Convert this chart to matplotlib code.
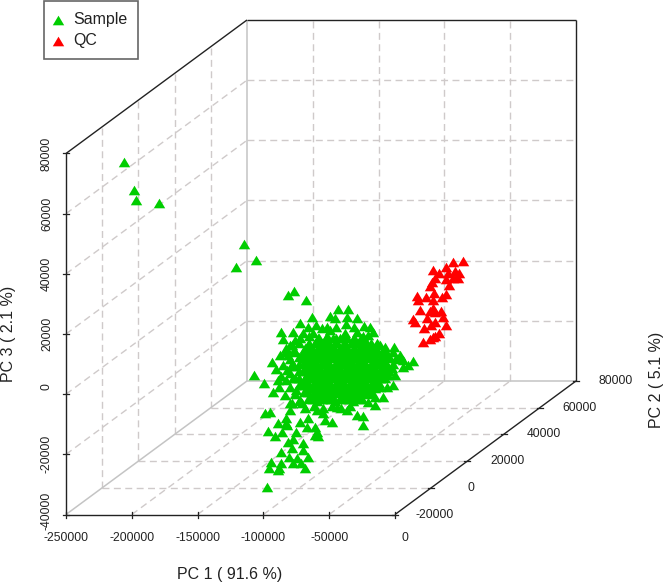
import numpy as np
import matplotlib
matplotlib.use("Agg")
import matplotlib.pyplot as plt

plt.rcParams["font.family"] = ["Liberation Sans", "DejaVu Sans"]

pc1_ticks = [-250000, -200000, -150000, -100000, -50000, 0]
pc2_ticks = [-20000, 0, 20000, 40000, 60000, 80000]
pc3_ticks = [-40000, -20000, 0, 20000, 40000, 60000, 80000]

# depth cannot be read off the flat picture, so one estimate per group
sample_pc2 = 0
qc_pc2 = 40000

sample_pc1 = [
    -233500, -225500, -224600, -207100, -142300, -133100, -148000, -104300, -108800, -95100,
    -134700, -127100, -124800, -126300, -122500, -124000, -118700, -113400, -116400, -110300,
    -121000, -117900, -120200, -115700, -111100, -107300, -121700, -123300, -114100, -115700,
    -116400, -105000, -108100, -114100, -108800, -105000, -105800, -102000, -97400, -97400,
    -93600, -95900, -98900, -102700, -94400, -88300, -86000, -88300, -86800, -109600,
    -110300, -107300, -99700, -93600, -80700, -75400, -56400, -51800, -51800, -64000,
    -105800, -98200, -86800, -82200, -71600, -42700, -48000,
    -114100, -112600, -110300, -114900, -108800, -105000, -99700, -90600, -93600, -87500,
    -83000, -76900, -70800, -63200, -64000, -56400, -64700, -73100, -51100, -44200,
    -48000, -56400, -65500, -76900, -89800, -97400, -103500, -50300, -41200, -35100,
    -28300, -13800, -21400, -23700, -32800, -21400, -27500, -29000, -36600, -33600,
    -42700, -112600, -114100, -109600, -116400,
    # dense core, row by row
    -99700, -92860, -86020, -79180, -72340, -65500, -58660, -51820,
    -107300, -100460, -93620, -86780, -79940, -73100, -66260, -59420, -52580, -45740, -38900,
    -111100, -104260, -97420, -90580, -83740, -76900, -70060, -63220, -56380, -49540, -42700, -35860, -29020,
    -107300, -100460, -93620, -86780, -79940, -73100, -66260, -59420, -52580, -45740, -38900, -32060, -25220,
    -104260, -97420, -90580, -83740, -76900, -70060, -63220, -56380, -49540, -42700, -35860, -29020,
    -107300, -100460, -93620, -86780, -79940, -73100, -66260, -59420, -52580, -45740, -38900, -32060,
    -110340, -103500, -96660, -89820, -82980, -76140, -69300, -62460, -55620, -48780, -41940, -35100,
    -107300, -100460, -93620, -86780, -79940, -73100, -66260, -59420, -52580, -45740, -38900,
    -103500, -96660, -89820, -82980, -76140, -69300, -62460, -55620, -48780,
    -100460, -93620, -86780, -79940, -73100, -66260, -59420, -52580,
    -95900, -89060, -82220, -75380, -68540, -61700,
    # centre of the core, where no white shows through
    -92860, -86020, -79180, -72340, -65500, -58660,
    -93620, -86780, -79940, -73100, -66260, -59420, -52580, -45740,
    -97420, -90580, -83740, -76900, -70060, -63220, -56380, -49540, -42700, -35860,
    -100460, -93620, -86780, -79940, -73100, -66260, -59420, -52580, -45740, -38900,
    -97420, -90580, -83740, -76900, -70060, -63220, -56380, -49540, -42700, -35860,
    -100460, -93620, -86780, -79940, -73100, -66260, -59420, -52580, -45740, -38900,
    -96660, -89820, -82980, -76140, -69300, -62460, -55620, -48780, -41940,
    -93620, -86780, -79940, -73100, -66260, -59420, -52580, -45740,
    -89820, -82980, -76140, -69300, -62460, -55620,
    # rim of the core
    -79180, -72340, -58660, -46500,
    -35860, -29780, -26740, -17620, -39660, -32820,
    -105800, -103500, -106500, -105000, -102700, -99700,
    # solid middle
    -85260, -79940, -74620, -69300, -63980, -58660, -53340,
    -87920, -82600, -77280, -71960, -66640, -61320, -56000, -50680,
    -95900, -90580, -85260, -79940, -74620, -69300, -63980, -58660, -53340, -48020, -42700,
    -93240, -87920, -82600, -77280, -71960, -66640, -61320, -56000, -50680, -45360, -40040, -34720,
    -95900, -90580, -85260, -79940, -74620, -69300, -63980, -58660, -53340, -48020, -42700, -37380, -32060,
    -93240, -87920, -82600, -77280, -71960, -66640, -61320, -56000, -50680, -45360, -40040, -34720,
    -95900, -90580, -85260, -79940, -74620, -69300, -63980, -58660, -53340, -48020, -42700, -37380, -32060,
    -93240, -87920, -82600, -77280, -71960, -66640, -61320, -56000, -50680, -45360, -40040, -34720,
    -95900, -90580, -85260, -79940, -74620, -69300, -63980, -58660, -53340, -48020, -42700, -37380,
    -93240, -87920, -82600, -77280, -71960, -66640, -61320, -56000, -50680, -45360, -40040,
    -90580, -85260, -79940, -74620, -69300, -63980, -58660, -53340, -48020, -42700,
    -87920, -82600, -77280, -71960, -66640, -61320, -56000, -50680, -45360,
    -85260, -79940, -74620, -69300, -63980, -58660, -53340,
]
sample_pc3 = [
    68250, 59100, 55600, 54600, 41000, 35700, 33350, 25400, 24000, 22400,
    -2400, -5200, -39800, -15200, -14850, -21200, -22800, -21500, -18500, -18500,
    1800, -560, -8200, -6500, -9200, -11900, -31500, -33500, -31800, -33500,
    -34100, -31800, -29800, -28150, -24800, -23800, -26800, -30100, -25150, -27500,
    -29800, -33500, -31800, -21500, -19800, -19800, -22800, -22500, -21500, -19200,
    -16800, -14200, -18200, -16800, -17500, -18200, -15850, -16200, -19200, -14200,
    -11900, -11900, -14200, -15200, -13200, -12500, -11500,
    11700, 9400, 6400, 4100, 4100, 11700, 14700, 16700, 13400, 14100,
    13100, 17100, 19400, 19400, 16700, 16400, 14400, 16400, 13700, 11700,
    10750, 11700, 11400, 12400, 11400, 11400, 9100, 9100, 8100, 6800,
    6800, 2100, 2440, 4100, 4100, 100, -2550, -5900, -9900, -6500,
    -9900, 800, -2880, -900, -4200,
    # dense core, row by row
    9750, 10410, 9750, 10410, 9750, 10410, 9750, 10410,
    7420, 8090, 7420, 8090, 7420, 8090, 7420, 8090, 7420, 8090, 7420,
    5100, 5760, 5100, 5760, 5100, 5760, 5100, 5760, 5100, 5760, 5100, 5760, 5100,
    2770, 3430, 2770, 3430, 2770, 3430, 2770, 3430, 2770, 3430, 2770, 3430, 2770,
    440, 1110, 440, 1110, 440, 1110, 440, 1110, 440, 1110, 440, 1110,
    -1890, -1220, -1890, -1220, -1890, -1220, -1890, -1220, -1890, -1220, -1890, -1220,
    -4210, -3550, -4210, -3550, -4210, -3550, -4210, -3550, -4210, -3550, -4210, -3550,
    -6540, -5870, -6540, -5870, -6540, -5870, -6540, -5870, -6540, -5870, -6540,
    -8870, -8200, -8870, -8200, -8870, -8200, -8870, -8200, -8870,
    -11190, -10530, -11190, -10530, -11190, -10530, -11190, -10530,
    -13520, -12850, -13520, -12850, -13520, -12850,
    # centre of the core, where no white shows through
    8090, 8090, 8090, 8090, 8090, 8090,
    5760, 5760, 5760, 5760, 5760, 5760, 5760, 5760,
    3430, 3430, 3430, 3430, 3430, 3430, 3430, 3430, 3430, 3430,
    1110, 1110, 1110, 1110, 1110, 1110, 1110, 1110, 1110, 1110,
    -1220, -1220, -1220, -1220, -1220, -1220, -1220, -1220, -1220, -1220,
    -3550, -3550, -3550, -3550, -3550, -3550, -3550, -3550, -3550, -3550,
    -5870, -5870, -5870, -5870, -5870, -5870, -5870, -5870, -5870,
    -8200, -8200, -8200, -8200, -8200, -8200, -8200, -8200,
    -10530, -10530, -10530, -10530, -10530, -10530,
    # rim of the core
    13400, 13400, 13400, 13400,
    1770, -220, 3100, 770, -2550, -2550,
    7400, 5100, 440, -3550, -7500, -10900,
    # solid middle
    9750, 9750, 9750, 9750, 9750, 9750, 9750,
    8090, 8090, 8090, 8090, 8090, 8090, 8090, 8090,
    6430, 6430, 6430, 6430, 6430, 6430, 6430, 6430, 6430, 6430, 6430,
    4760, 4760, 4760, 4760, 4760, 4760, 4760, 4760, 4760, 4760, 4760, 4760,
    3100, 3100, 3100, 3100, 3100, 3100, 3100, 3100, 3100, 3100, 3100, 3100, 3100,
    1440, 1440, 1440, 1440, 1440, 1440, 1440, 1440, 1440, 1440, 1440, 1440,
    -220, -220, -220, -220, -220, -220, -220, -220, -220, -220, -220, -220, -220,
    -1890, -1890, -1890, -1890, -1890, -1890, -1890, -1890, -1890, -1890, -1890, -1890,
    -3550, -3550, -3550, -3550, -3550, -3550, -3550, -3550, -3550, -3550, -3550, -3550,
    -5210, -5210, -5210, -5210, -5210, -5210, -5210, -5210, -5210, -5210, -5210,
    -6870, -6870, -6870, -6870, -6870, -6870, -6870, -6870, -6870, -6870,
    -8530, -8530, -8530, -8530, -8530, -8530, -8530, -8530, -8530,
    -10200, -10200, -10200, -10200, -10200, -10200, -10200,
]

qc_pc1 = [
    -31050, -38400, -43700, -53600, -49100, -42200, -36900, -33900, -34600, -38400,
    -43700, -52100, -54400, -55900, -41500, -46800, -43700, -52900, -58900, -65800,
    -65000, -53600, -63500, -53600, -55900, -47500, -52100, -68800, -58200, -46000,
    -52100, -67300, -43700, -60500, -55100, -49100, -53600, -61200, -55900, -52100,
]
qc_pc3 = [
    17740, 17300, 15600, 14650, 13650, 13650, 14300, 13650, 12000, 12000,
    11660, 12000, 10660, 9330, 9670, 5680, 6670, 7000, 5680, 6000,
    4680, 4680, 1360, 2020, 1020, 1020, 690, -1640, -1300, -970,
    -2630, -2630, -3630, -4630, -3630, -6290, -7620, -9280, -8280, -7290,
]

GREEN = "#00CD00"
RED = "#FF0000"
GRID = "#cfcaca"
BOX_GREY = "#c4c4c4"
AXIS = "#222222"

triangle = [(-0.5, -0.42), (0.5, -0.42), (0.0, 0.42)]


def project(pc1, pc2, pc3):
    # oblique view, same idea as scatterplot3d
    pc1, pc2, pc3 = np.asarray(pc1, float), np.asarray(pc2, float), np.asarray(pc3, float)
    u = 66 + (pc1 + 250000) * 0.001316 + (pc2 + 20000) * 0.00181
    v = 514.5 - (pc3 + 40000) * 0.0030085 - (pc2 + 20000) * 0.001335
    return u, v


def seg(ax, a, b, **kw):
    u, v = project(*zip(a, b))
    ax.plot(u, v, solid_capstyle="butt", **kw)


fig = plt.figure(figsize=(6.66, 5.85), dpi=100)
ax = fig.add_axes([0, 0, 1, 1])
ax.set_xlim(0, 666)
ax.set_ylim(585, 0)
ax.axis("off")

x0, x1 = pc1_ticks[0], pc1_ticks[-1]
y0, y1 = pc2_ticks[0], pc2_ticks[-1]
z0, z1 = pc3_ticks[0], pc3_ticks[-1]

dash = dict(color=GRID, lw=1.0, ls=(0, (5, 3.2)), zorder=1)
for x in pc1_ticks[1:-1]:
    seg(ax, (x, y0, z0), (x, y1, z0), **dash)
    seg(ax, (x, y1, z0), (x, y1, z1), **dash)
for y in pc2_ticks[1:-1]:
    seg(ax, (x0, y, z0), (x1, y, z0), **dash)
    seg(ax, (x0, y, z0), (x0, y, z1), **dash)
for z in pc3_ticks[1:-1]:
    seg(ax, (x0, y0, z), (x0, y1, z), **dash)
    seg(ax, (x0, y1, z), (x1, y1, z), **dash)

grey = dict(color=BOX_GREY, lw=1.1, zorder=1.5)
seg(ax, (x0, y0, z0), (x0, y1, z0), **grey)
seg(ax, (x0, y1, z0), (x1, y1, z0), **grey)
seg(ax, (x0, y1, z0), (x0, y1, z1), **grey)

black = dict(color=AXIS, lw=1.0, zorder=2)
seg(ax, (x0, y0, z0), (x1, y0, z0), **black)
seg(ax, (x1, y0, z0), (x1, y1, z0), **black)
seg(ax, (x0, y0, z0), (x0, y0, z1), **black)
seg(ax, (x0, y0, z1), (x0, y1, z1), **black)
seg(ax, (x0, y1, z1), (x1, y1, z1), **black)
seg(ax, (x1, y1, z0), (x1, y1, z1), **black)

tick_font = 8.7
for x in pc1_ticks:
    u, v = project(x, y0, z0)
    ax.plot([u, u], [v - 3, v + 3.5], color=AXIS, lw=0.9, zorder=2)
    ax.text(u + (10 if x == 0 else 0), 538, str(x), ha="center", va="center",
            fontsize=tick_font, color="#222222")
for y in pc2_ticks:
    u, v = project(x1, y, z0)
    ax.plot([u - 3, u + 3], [v, v], color=AXIS, lw=0.9, zorder=2)
    ax.text(u + 40, v, str(y), ha="center", va="center", fontsize=tick_font, color="#222222")
for z in pc3_ticks:
    u, v = project(x0, y0, z)
    ax.plot([u - 3, u + 3], [v, v], color=AXIS, lw=0.9, zorder=2)
    shift = {0: -8, -40000: -4}.get(z, 0)
    ax.text(47, v + shift, str(z), ha="center", va="center", rotation=90,
            fontsize=tick_font, color="#222222")

label_font = 11.5
ax.text(230, 575, "PC 1 ( 91.6 %)", ha="center", va="center", fontsize=label_font, color="#222222")
ax.text(9, 334, "PC 3 ( 2.1 %)", ha="center", va="center", rotation=90,
        fontsize=label_font, color="#222222")
ax.text(657, 380, "PC 2 ( 5.1 %)", ha="center", va="center", rotation=90,
        fontsize=label_font, color="#222222")

u, v = project(sample_pc1, np.full(len(sample_pc1), sample_pc2), sample_pc3)
samples = ax.scatter(u, v, s=68, marker=triangle, color=GREEN, linewidths=0, zorder=3, label="Sample")
u, v = project(qc_pc1, np.full(len(qc_pc1), qc_pc2), qc_pc3)
qcs = ax.scatter(u, v, s=68, marker=triangle, color=RED, linewidths=0, zorder=3, label="QC")

leg = ax.legend(handles=[samples, qcs], loc="upper left", bbox_to_anchor=(44 / 666, 1 - 1 / 585),
                borderaxespad=0, fancybox=False, framealpha=1, edgecolor="#666666",
                fontsize=label_font, labelcolor="#222222", handlelength=0.35, handletextpad=0.76,
                labelspacing=0.35, borderpad=0.7)
leg.get_frame().set_linewidth(1.2)

fig.savefig("out.png", dpi=100)
